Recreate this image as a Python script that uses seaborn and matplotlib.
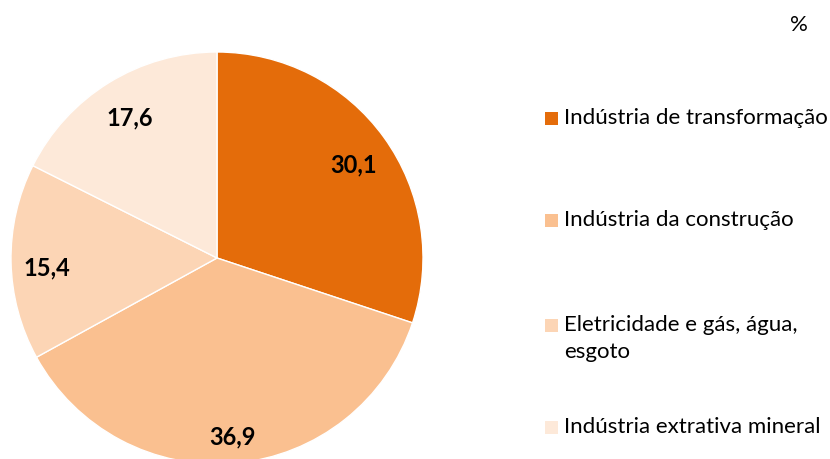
import matplotlib
matplotlib.use("Agg")
import matplotlib.pyplot as plt
import seaborn as sns
from matplotlib.patches import Rectangle

categories = ["Indústria de transformação", "Indústria da construção",
              "Eletricidade e gás, água,\nesgoto", "Indústria extrativa mineral"]
values = [30.1, 36.9, 15.4, 17.6]
value_labels = ["30,1", "36,9", "15,4", "17,6"]
colors = ["#E46C0A", "#FAC090", "#FCD5B5", "#FDE9D9"]

sns.set_theme(style="white")
plt.rcParams['font.family'] = ['Lato', 'DejaVu Sans']

W, H = 830, 459
fig = plt.figure(figsize=(W / 100, H / 100), dpi=100)
ax = fig.add_axes([0, 0, 1, 1])

cx, cy, r = 217, H - 258, 206
wedges, texts = ax.pie(values, colors=colors, startangle=90, counterclock=False,
                       center=(cx, cy), radius=r, labels=value_labels,
                       labeldistance=0.0,
                       wedgeprops=dict(edgecolor='white', linewidth=1.0),
                       frame=True)
ax.set_xlim(0, W)
ax.set_ylim(0, H)
ax.set_aspect('auto')
ax.axis('off')

label_pos = [(354, 165), (233, 437), (47, 268), (130, 118)]
for t, (x, y) in zip(texts, label_pos):
    t.set_position((x, H - y))
    t.set_ha('center')
    t.set_va('center')
    t.set_fontsize(17)
    t.set_fontweight('bold')
    t.set_color('black')

legend_y = [118, 220, 325, 427]
for lab, col, y in zip(categories, colors, legend_y):
    ax.add_patch(Rectangle((545, H - y - 6.5), 13, 13, facecolor=col,
                           edgecolor='none', clip_on=False))
    if '\n' in lab:
        first, second = lab.split('\n')
        ax.text(564, H - y, first, ha='left', va='center',
                fontsize=16, color='black')
        ax.text(564, H - y - 27, second, ha='left', va='center',
                fontsize=16, color='black')
    else:
        ax.text(564, H - y, lab, ha='left', va='center',
                fontsize=16, color='black')

ax.text(799, H - 25, "%", ha='center', va='center', fontsize=16, color='black')

fig.savefig("out.png", dpi=100)
